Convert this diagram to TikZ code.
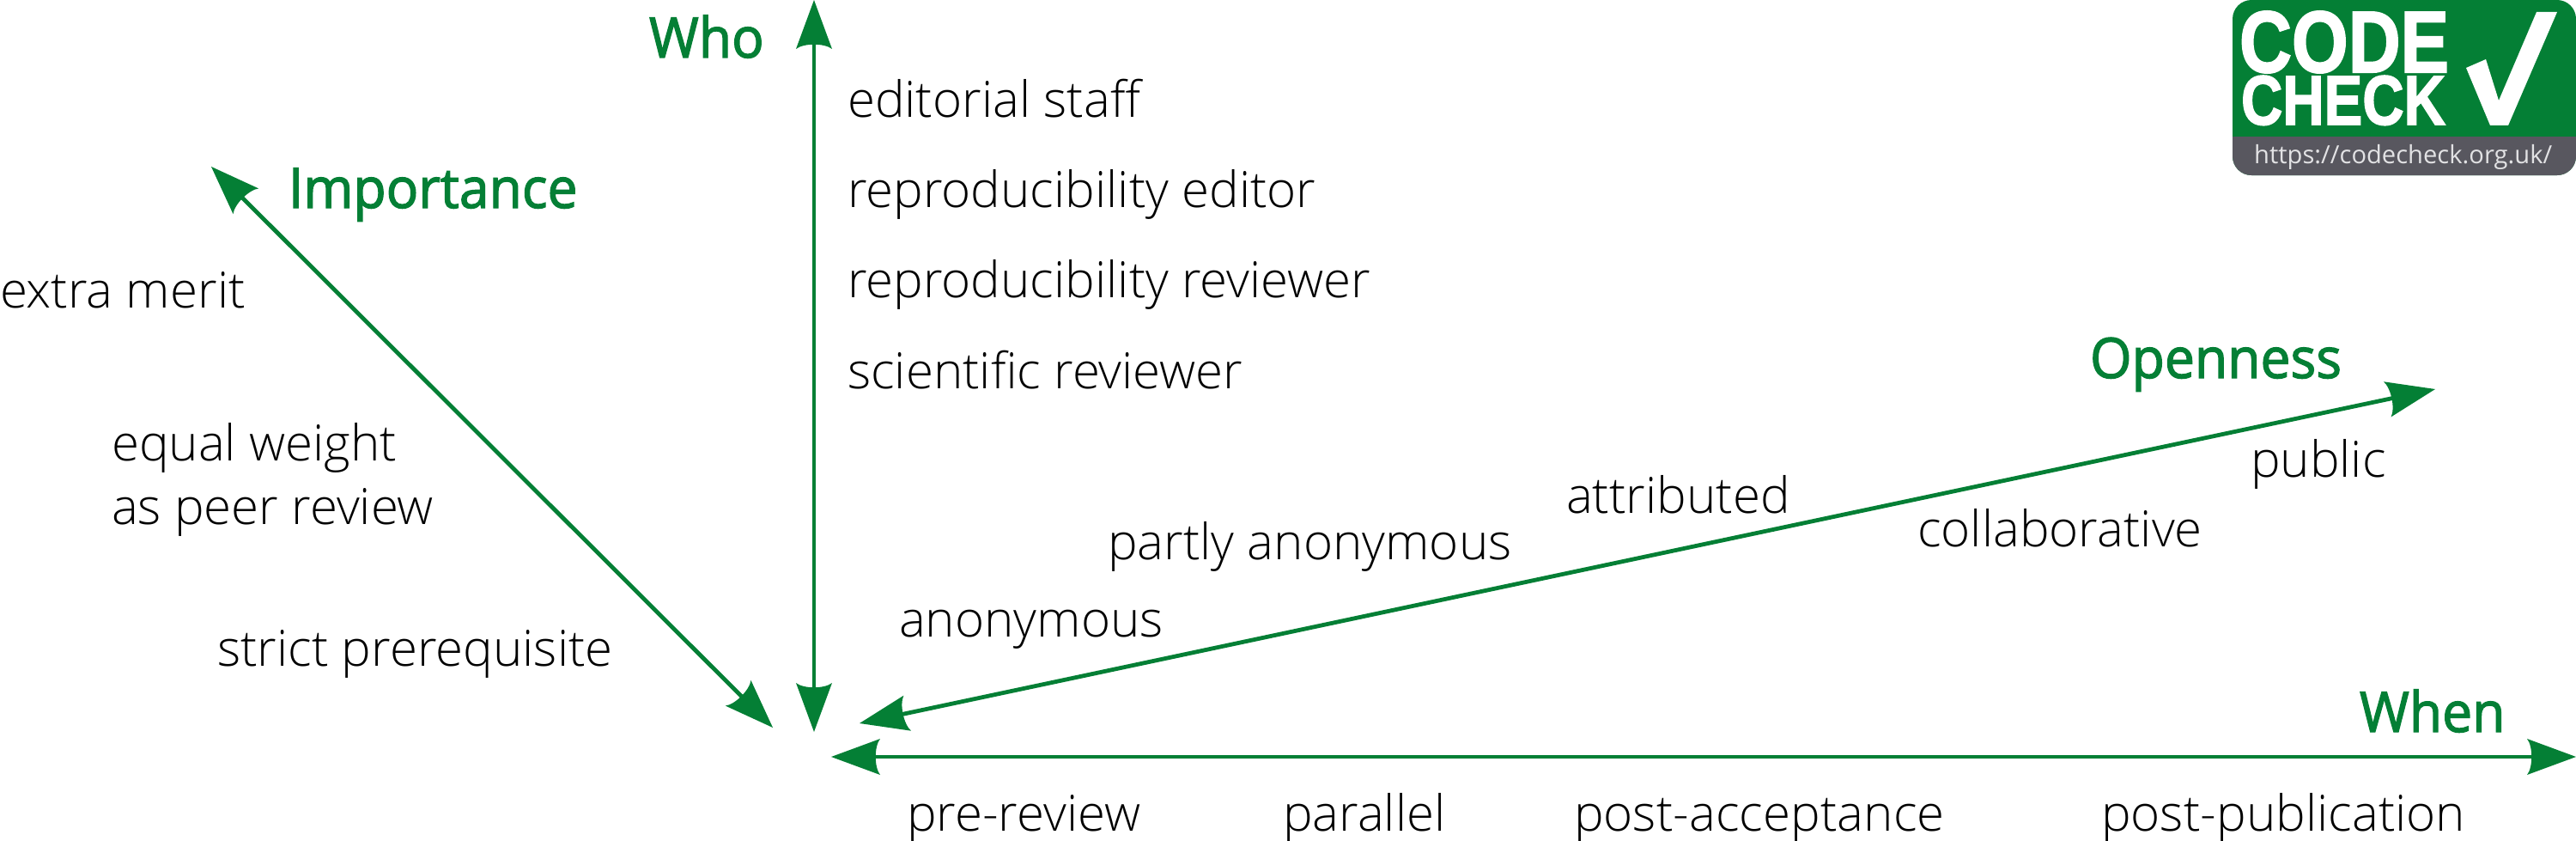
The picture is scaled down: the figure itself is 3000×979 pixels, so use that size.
\documentclass[tikz,border=0pt]{standalone}
\usepackage{fontspec}
\usepackage{graphicx}
\usetikzlibrary{arrows.meta}
\setmainfont{Open Sans}
\newfontfamily\lightfont[FakeStretch=1.005]{Open Sans Light}
\newfontfamily\headfont[FakeStretch=0.96,FakeBold=2]{Open Sans}
\newfontfamily\logofont[FakeBold=2]{Liberation Sans Bold}
\definecolor{cgreen}{HTML}{047F35}
\definecolor{cgrey}{HTML}{58575F}
\definecolor{curl}{HTML}{E2E2E4}
\pgfdeclarearrow{
  name=CurvedTip,
  setup code={\pgfarrowssettipend{0pt}\pgfarrowssetbackend{-57pt}\pgfarrowssetlineend{-48pt}\pgfarrowshullpoint{0pt}{0pt}\pgfarrowshullpoint{-57pt}{21pt}\pgfarrowshullpoint{-57pt}{-21pt}},
  drawing code={
    \pgfsetlinewidth{0pt}
    \pgfpathmoveto{\pgfqpoint{0pt}{0pt}}
    \pgfpathlineto{\pgfqpoint{-57pt}{21pt}}
    \pgfpathcurveto{\pgfqpoint{-50pt}{12pt}}{\pgfqpoint{-50pt}{-12pt}}{\pgfqpoint{-57pt}{-21pt}}
    \pgfpathclose
    \pgfusepathqfill
  },
  defaults={}
}
\tikzset{
  axis/.style={draw=cgreen,line width=4.8pt,{CurvedTip}-{CurvedTip},shorten <=0pt,shorten >=0pt},
  lbl/.style={anchor=base west,inner sep=0pt,outer sep=0pt,text=black,font=\fontsize{58}{70}\selectfont\lightfont},
  head/.style={anchor=base west,inner sep=0pt,outer sep=0pt,text=cgreen,font=\fontsize{65}{75}\selectfont\headfont},
  logotxt/.style={anchor=base west,inner sep=0pt,outer sep=0pt,text=white,font=\logofont},
}
\begin{document}
\begin{tikzpicture}[x=1pt,y=-1pt]
\useasboundingbox (0,0) rectangle (3000,979);
% axis ends
\coordinate (impA) at (246,194);
\coordinate (impB) at (900,847);
\coordinate (whoA) at (948,0);
\coordinate (whoB) at (948,852);
\coordinate (openA) at (1001,842);
\coordinate (openB) at (2836,453);
\coordinate (whenA) at (968,881);
\coordinate (whenB) at (3000,881);
\draw[axis] (impA) -- (impB);
\draw[axis] (whoA) -- (whoB);
\draw[axis] (openA) -- (openB);
\draw[axis] (whenA) -- (whenB);
% headings
\node[head] (who) at (756,67) {Who};
\node[head] (imp) at (336,242) {Importance};
\node[head] (opn) at (2434,440) {Openness};
\node[head] (whn) at (2748,852) {When};
% labels
\node[lbl] (l1) at (987,136) {editorial staff};
\node[lbl] (l2) at (987,241) {reproducibility editor};
\node[lbl] (l3) at (987,346) {reproducibility reviewer};
\node[lbl] (l4) at (987,452) {scientific reviewer};
\node[lbl] (l5) at (0,358) {extra merit};
\node[lbl] (l6) at (130,536) {equal weight};
\node[lbl] (l7) at (130,610) {as peer review};
\node[lbl] (l8) at (253,775) {strict prerequisite};
\node[lbl] (l9) at (2621,555) {public};
\node[lbl] (l10) at (1824,597) {attributed};
\node[lbl] (l11) at (2233,636) {collaborative};
\node[lbl] (l12) at (1290,651) {partly anonymous};
\node[lbl] (l13) at (1047,741) {anonymous};
\node[lbl] (l14) at (1056,967) {pre-review};
\node[lbl] (l15) at (1494,967) {parallel};
\node[lbl] (l16) at (1833,967) {post-acceptance};
\node[lbl] (l17) at (2447,967) {post-publication};
% logo
\fill[cgreen,rounded corners=22pt] (2600,0) rectangle (3000,204);
\fill[cgrey,rounded corners=22pt] (2600,120) rectangle (3000,204);
\fill[cgreen] (2600,60) rectangle (3000,159);
\fill[white] (2978,14) -- (2954,14) -- (2910,117) -- (2895,69) -- (2872,79) -- (2900,146) -- (2921,146) -- cycle;
\node[logotxt] (code) at (2608,84) {\resizebox{244pt}{71pt}{\fontsize{96}{96}\selectfont CODE}};
\node[logotxt] (check) at (2610,145) {\resizebox{238pt}{57pt}{\fontsize{76}{76}\selectfont CHECK}};
\node[anchor=base west,inner sep=0pt,text=curl] (url) at (2625,190) {\resizebox{347pt}{!}{\fontsize{36}{40}\selectfont https://codecheck.org.uk/}};
\end{tikzpicture}
\end{document}
